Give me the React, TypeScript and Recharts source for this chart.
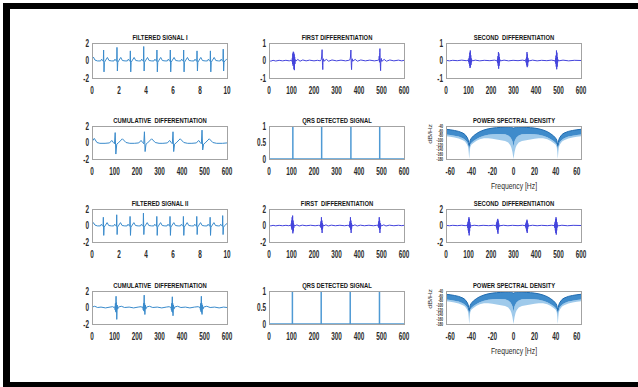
import { LineChart, Line, XAxis, YAxis, ComposedChart, Area } from 'recharts';

// values (time in s, others in samples)
const filteredSignal1 = [
  [0, 0.15], [0.1, 0.4], [0.22, 0.05], [0.4, -0.05],
  [0.64, -0.05], [0.71, 0.15], [0.78, 0], [0.84, -0.1], [0.86, 1.2], [0.89, -1.3], [0.92, -0.2], [0.98, -0.05], [1.14, 0.35], [1.26, 0], [1.46, -0.05],
  [1.63, -0.05], [1.7, 0.15], [1.77, 0], [1.83, -0.1], [1.85, 1.5], [1.88, -1.2], [1.91, -0.2], [1.97, -0.05], [2.13, 0.35], [2.25, 0], [2.45, -0.05],
  [2.62, -0.05], [2.69, 0.15], [2.76, 0], [2.82, -0.1], [2.84, 1.1], [2.87, -1.3], [2.9, -0.2], [2.96, -0.05], [3.12, 0.35], [3.24, 0], [3.44, -0.05],
  [3.61, -0.05], [3.68, 0.15], [3.75, 0], [3.81, -0.1], [3.83, 1.6], [3.86, -1.2], [3.89, -0.2], [3.95, -0.05], [4.11, 0.35], [4.23, 0], [4.43, -0.05],
  [4.59, -0.05], [4.66, 0.15], [4.73, 0], [4.79, -0.1], [4.81, 1.2], [4.84, -1.3], [4.87, -0.2], [4.93, -0.05], [5.09, 0.35], [5.21, 0], [5.41, -0.05],
  [5.58, -0.05], [5.65, 0.15], [5.72, 0], [5.78, -0.1], [5.8, 1.2], [5.83, -1.3], [5.86, -0.2], [5.92, -0.05], [6.08, 0.35], [6.2, 0], [6.4, -0.05],
  [6.57, -0.05], [6.64, 0.15], [6.71, 0], [6.77, -0.1], [6.79, 1.2], [6.82, -1.3], [6.85, -0.2], [6.91, -0.05], [7.07, 0.35], [7.19, 0], [7.39, -0.05],
  [7.56, -0.05], [7.63, 0.15], [7.7, 0], [7.76, -0.1], [7.78, 1.1], [7.81, -1.2], [7.84, -0.2], [7.9, -0.05], [8.06, 0.35], [8.18, 0], [8.38, -0.05],
  [8.55, -0.05], [8.62, 0.15], [8.69, 0], [8.75, -0.1], [8.77, 1.1], [8.8, -1.3], [8.83, -0.2], [8.89, -0.05], [9.05, 0.35], [9.17, 0], [9.37, -0.05],
  [9.5, -0.05], [9.57, 0.15], [9.64, 0], [9.7, -0.1], [9.72, 1.3], [9.75, -1.2], [9.78, -0.2], [9.84, -0.05], [10, 0.2],
];

const filteredSignal2 = [
  [0, 0.1], [0.1, 0.35], [0.22, 0.05], [0.4, -0.05],
  [0.62, -0.05], [0.69, 0.15], [0.76, 0], [0.82, -0.1], [0.84, 1.0], [0.87, -1.2], [0.9, -0.2], [0.96, -0.05], [1.12, 0.35], [1.24, 0], [1.44, -0.05],
  [1.61, -0.05], [1.68, 0.15], [1.75, 0], [1.81, -0.1], [1.83, 1.3], [1.86, -1.1], [1.89, -0.2], [1.95, -0.05], [2.11, 0.35], [2.23, 0], [2.43, -0.05],
  [2.6, -0.05], [2.67, 0.15], [2.74, 0], [2.8, -0.1], [2.82, 1.1], [2.85, -1.2], [2.88, -0.2], [2.94, -0.05], [3.1, 0.35], [3.22, 0], [3.42, -0.05],
  [3.59, -0.05], [3.66, 0.15], [3.73, 0], [3.79, -0.1], [3.81, 1.5], [3.84, -1.1], [3.87, -0.2], [3.93, -0.05], [4.09, 0.35], [4.21, 0], [4.41, -0.05],
  [4.58, -0.05], [4.65, 0.15], [4.72, 0], [4.78, -0.1], [4.8, 1.1], [4.83, -1.2], [4.86, -0.2], [4.92, -0.05], [5.08, 0.35], [5.2, 0], [5.4, -0.05],
  [5.56, -0.05], [5.63, 0.15], [5.7, 0], [5.76, -0.1], [5.78, 1.1], [5.81, -1.2], [5.84, -0.2], [5.9, -0.05], [6.06, 0.35], [6.18, 0], [6.38, -0.05],
  [6.55, -0.05], [6.62, 0.15], [6.69, 0], [6.75, -0.1], [6.77, 1.1], [6.8, -1.2], [6.83, -0.2], [6.89, -0.05], [7.05, 0.35], [7.17, 0], [7.37, -0.05],
  [7.54, -0.05], [7.61, 0.15], [7.68, 0], [7.74, -0.1], [7.76, 1.1], [7.79, -1.1], [7.82, -0.2], [7.88, -0.05], [8.04, 0.35], [8.16, 0], [8.36, -0.05],
  [8.53, -0.05], [8.6, 0.15], [8.67, 0], [8.73, -0.1], [8.75, 1.0], [8.78, -1.2], [8.81, -0.2], [8.87, -0.05], [9.03, 0.35], [9.15, 0], [9.35, -0.05],
  [9.46, -0.05], [9.53, 0.15], [9.6, 0], [9.66, -0.1], [9.68, 1.2], [9.71, -1.1], [9.74, -0.2], [9.8, -0.05], [10, 0.25],
];

const firstDiff1 = [
  [0, 0.02], [8, -0.04], [18, 0.01], [30, -0.03], [45, 0.01], [60, -0.02], [75, 0.01], [90, -0.02], [98, 0.02], [102, -0.05],
  [104, 0.15], [105, -0.2], [106, 0.4], [107, -0.3], [108, 0.5], [109, -0.25], [110, 0.45], [111, -0.5], [112, 0.35], [113, -0.55], [114, 0.2], [115, -0.2], [117, 0.05], [120, -0.03],
  [128, 0.06], [138, -0.04], [150, 0.03], [165, -0.02], [180, 0.02], [200, -0.02], [215, 0.01], [228, -0.02],
  [232, 0.05], [234, 0.2], [236, 0.62], [237, 0.1], [238, -0.3], [239, -0.52], [240, -0.1], [242, 0.1], [244, -0.04],
  [255, 0.06], [265, -0.04], [280, 0.03], [300, -0.02], [320, 0.02], [340, -0.02], [355, 0.01],
  [360, 0.05], [362, 0.2], [364, 0.6], [365, 0.1], [366, -0.3], [367, -0.52], [368, -0.1], [370, 0.1], [372, -0.04],
  [383, 0.06], [393, -0.04], [408, 0.03], [428, -0.02], [448, 0.02], [468, -0.02], [484, 0.01],
  [489, 0.05], [490, 0.25], [491, -0.1], [492, 0.45], [493, 0.68], [494, 0.1], [495, -0.35], [496, -0.58], [497, -0.1], [499, 0.12], [501, -0.05],
  [512, 0.06], [522, -0.04], [537, 0.03], [555, -0.02], [575, 0.02], [590, -0.02], [600, 0.01],
];

const firstDiff2 = [
  [0, 0.03], [8, -0.05], [18, 0.02], [30, -0.04], [45, 0.02], [60, -0.03], [75, 0.02], [88, -0.03], [95, 0.03], [98, -0.08],
  [99, 0.25], [100, -0.3], [101, 0.6], [102, -0.5], [103, 1.0], [104, -0.4], [105, 1.2], [106, -0.95], [107, 0.6], [108, -0.7], [109, 0.3], [110, -0.3], [112, 0.08], [115, -0.05],
  [124, 0.08], [134, -0.06], [148, 0.04], [165, -0.03], [185, 0.03], [205, -0.03], [220, 0.02],
  [227, -0.05], [229, 0.2], [230, -0.2], [231, 0.5], [232, -0.3], [233, 1.0], [234, -0.5], [235, 0.6], [236, -0.9], [237, 0.3], [238, -0.4], [240, 0.1], [243, -0.05],
  [253, 0.08], [263, -0.06], [277, 0.04], [295, -0.03], [315, 0.03], [335, -0.03], [350, 0.02],
  [356, -0.05], [358, 0.2], [359, -0.2], [360, 0.5], [361, -0.3], [362, 1.0], [363, -0.5], [364, 0.6], [365, -0.9], [366, 0.3], [367, -0.4], [369, 0.1], [372, -0.05],
  [382, 0.08], [392, -0.06], [406, 0.04], [424, -0.03], [444, 0.03], [464, -0.03], [478, 0.02],
  [484, -0.05], [486, 0.2], [487, -0.2], [488, 0.5], [489, -0.3], [490, 1.0], [491, -0.5], [492, 0.6], [493, -0.9], [494, 0.3], [495, -0.4], [497, 0.1], [500, -0.05],
  [510, 0.08], [520, -0.06], [535, 0.04], [555, -0.03], [575, 0.03], [590, -0.02], [600, 0.02],
];

const secondDiff1 = [
  [0, 0.01], [15, -0.02], [30, 0.01], [50, -0.01], [70, 0.02], [90, -0.01], [99, 0.02],
  [101, -0.08], [102, 0.12], [103, -0.18], [104, 0.25], [105, -0.3], [106, 0.45], [107, -0.43], [108, 0.57], [109, -0.35], [110, 0.3], [111, -0.25], [112, 0.12], [113, -0.1], [115, 0.04], [118, -0.02],
  [130, 0.02], [150, -0.02], [170, 0.01], [195, -0.01], [215, 0.02], [226, -0.01],
  [228, -0.06], [229, 0.1], [230, -0.15], [231, 0.25], [232, -0.3], [233, 0.48], [234, -0.47], [235, 0.4], [236, -0.3], [237, 0.2], [238, -0.12], [240, 0.05], [243, -0.02],
  [258, 0.02], [278, -0.02], [298, 0.01], [320, -0.01], [340, 0.02], [353, -0.01],
  [355, -0.06], [356, 0.1], [357, -0.15], [358, 0.2], [359, -0.28], [360, 0.48], [361, -0.38], [362, 0.35], [363, -0.3], [364, 0.15], [365, -0.1], [367, 0.04], [370, -0.02],
  [385, 0.02], [405, -0.02], [425, 0.01], [448, -0.01], [468, 0.02], [484, -0.01],
  [486, -0.08], [487, 0.12], [488, -0.18], [489, 0.28], [490, -0.35], [491, 0.57], [492, -0.5], [493, 0.45], [494, -0.35], [495, 0.2], [496, -0.12], [498, 0.05], [501, -0.02],
  [520, 0.02], [545, -0.02], [570, 0.01], [600, 0],
];

const secondDiff2 = [
  [0, 0.02], [15, -0.03], [30, 0.02], [50, -0.02], [70, 0.03], [85, -0.02], [94, 0.03],
  [95, -0.1], [96, 0.2], [97, -0.3], [98, 0.45], [99, -0.6], [100, 0.75], [101, -0.9], [102, 1.0], [103, -1.2], [104, 0.8], [105, -0.7], [106, 0.4], [107, -0.3], [109, 0.1], [112, -0.04],
  [125, 0.03], [145, -0.03], [165, 0.02], [190, -0.02], [210, 0.03], [222, -0.02],
  [223, -0.1], [224, 0.2], [225, -0.3], [226, 0.4], [227, -0.5], [228, 0.6], [229, -0.8], [230, 0.8], [231, -1.0], [232, 0.6], [233, -0.5], [234, 0.3], [235, -0.2], [237, 0.08], [240, -0.03],
  [255, 0.03], [275, -0.03], [295, 0.02], [320, -0.02], [340, 0.03], [352, -0.02],
  [353, -0.1], [354, 0.15], [355, -0.25], [356, 0.35], [357, -0.45], [358, 0.55], [359, -0.7], [360, 0.7], [361, -0.9], [362, 0.5], [363, -0.4], [364, 0.25], [365, -0.15], [367, 0.06], [370, -0.03],
  [385, 0.03], [405, -0.03], [425, 0.02], [450, -0.02], [470, 0.03], [481, -0.02],
  [482, -0.1], [483, 0.2], [484, -0.3], [485, 0.45], [486, -0.6], [487, 0.75], [488, -0.9], [489, 1.0], [490, -1.1], [491, 0.8], [492, -0.6], [493, 0.4], [494, -0.25], [496, 0.1], [499, -0.04],
  [515, 0.03], [540, -0.03], [565, 0.02], [600, 0],
];

const cumulativeDiff1 = [
  [0, 0.1], [10, 0.5], [22, 0.0], [35, -0.1], [58, -0.1], [78, -0.05], [88, 0.25], [95, 0], [100, -0.15], [103, 1.2], [106, -1.4], [110, -0.2], [117, -0.05], [135, 0.45], [151, 0], [168, -0.1],
  [188, -0.1], [208, -0.05], [218, 0.25], [225, 0], [230, -0.15], [233, 1.3], [236, -1.1], [240, -0.2], [247, -0.05], [265, 0.45], [281, 0], [298, -0.1],
  [315, -0.1], [335, -0.05], [345, 0.25], [352, 0], [357, -0.15], [360, 1.3], [363, -1.1], [367, -0.2], [374, -0.05], [392, 0.45], [408, 0], [425, -0.1],
  [444, -0.1], [464, -0.05], [474, 0.25], [481, 0], [486, -0.15], [489, 1.5], [492, -0.9], [496, -0.2], [503, -0.05], [521, 0.45], [537, 0], [554, -0.1], [580, -0.1], [600, -0.05],
];

const cumulativeDiff2 = [
  [0, 0.05], [12, 0.15], [25, 0], [40, 0.05], [60, -0.05], [80, 0.05], [92, 0.1], [98, 0],
  [101, 0.1], [103, -0.3], [104, 0.5], [105, -0.5], [107, 1.36], [108, -0.6], [109, 0.6], [110, -1.44], [112, 0.3], [114, -0.2], [117, 0.05],
  [130, 0.15], [145, 0.0], [165, 0.05], [185, -0.05], [205, 0.05], [218, 0.1], [224, 0],
  [226, 0.1], [228, -0.3], [229, 0.5], [230, -0.4], [232, 1.5], [233, -0.5], [234, 0.5], [235, -0.85], [237, 0.3], [239, -0.2], [242, 0.05],
  [255, 0.15], [270, 0.0], [290, 0.05], [310, -0.05], [330, 0.05], [343, 0.1], [349, 0],
  [351, 0.1], [353, -0.3], [354, 0.5], [355, -0.5], [357, 1.3], [358, -0.6], [359, 0.5], [360, -1.0], [362, 0.3], [364, -0.2], [367, 0.05],
  [380, 0.15], [395, 0.0], [415, 0.05], [435, -0.05], [455, 0.05], [472, 0.1], [478, 0],
  [480, 0.1], [482, -0.3], [483, 0.5], [484, -0.5], [486, 1.36], [487, -0.6], [488, 0.5], [489, -0.84], [491, 0.3], [493, -0.2], [496, 0.05],
  [510, 0.15], [525, 0], [545, 0.05], [565, -0.05], [585, 0.05], [600, 0],
];

const qrsDetected1 = [
  [0, 0], [106, 0], [106, 1], [106, 0], [234, 0], [234, 1], [234, 0],
  [364, 0], [364, 1], [364, 0], [492, 0], [492, 1], [492, 0], [600, 0],
];

const qrsDetected2 = [
  [0, 0], [104, 0], [104, 1], [104, 0], [232, 0], [232, 1], [232, 0],
  [361, 0], [361, 1], [361, 0], [491, 0], [491, 1], [491, 0], [600, 0],
];

// power spectral density, dB/Hz
const psdFreq = [-64, -60, -56, -52, -48, -46, -44, -43, -42.5, -42, -41.5, -41, -40, -38, -35, -32, -28, -24, -20, -16, -12, -8, -5, -3, -2, -1, -0.5, 0,
  0.5, 1, 2, 3, 5, 8, 12, 16, 20, 24, 28, 32, 35, 38, 40, 41, 41.5, 42, 42.5, 43, 44, 46, 48, 52, 56, 60, 64];
const psdUpper = [-54, -56, -59, -63, -70, -76, -88, -98, -110, -122, -110, -100, -92, -82, -72, -64, -57, -52, -49, -47, -46, -45, -45, -45, -46, -47, -48, -49,
  -48, -47, -46, -45, -45, -45, -46, -47, -49, -52, -57, -64, -72, -82, -92, -100, -110, -122, -110, -98, -88, -76, -70, -63, -59, -56, -54];
const psdDarkFloor = [-76, -78, -81, -85, -92, -98, -108, -118, -128, -138, -128, -118, -112, -104, -95, -88, -81, -77, -75, -74, -74, -75, -80, -88, -95, -105, -115, -128,
  -115, -105, -95, -88, -80, -75, -74, -74, -75, -77, -81, -88, -95, -104, -112, -118, -128, -138, -128, -118, -108, -98, -92, -85, -81, -78, -76];
const psdLightFloor = [-84, -86, -89, -93, -100, -106, -118, -130, -150, -180, -150, -130, -120, -112, -103, -96, -92, -92, -94, -97, -100, -104, -110, -122, -132, -150, -165, -180,
  -165, -150, -132, -122, -110, -104, -100, -97, -94, -92, -92, -96, -103, -112, -120, -130, -150, -180, -150, -130, -118, -106, -100, -93, -89, -86, -84];

const timeTicks = [0, 2, 4, 6, 8, 10];
const sampleTicks = [0, 100, 200, 300, 400, 500, 600];
const freqTicks = [-60, -40, -20, 0, 20, 40, 60];
const ampTicks1 = [-1, 0, 1];
const ampTicks2 = [-2, 0, 2];
const qrsTicks = [0, 0.5, 1];
const psdTicks = [-180, -160, -140, -120, -100, -80, -60, -40];

const FONT = '"Liberation Sans", Arial, Helvetica, sans-serif';
const W = 135;
const PAD_L = 34;
const PAD_R = 8;
const PAD_T = 8;
const PAD_B = 22;
const COLS = [92, 269, 446];

const LIGHT_BLUE = '#3a8bcc';
const VIOLET = '#4444dc';

function XTick(props: any) {
  const { x, y, payload } = props;
  return (
    <text transform={`translate(${x},${y + 12}) scale(0.64,1)`} textAnchor="middle" dominantBaseline="central"
      fontFamily={FONT} fontWeight="bold" fontSize={10} fill="#2b2b2b">
      {payload.value}
    </text>
  );
}

function YTick(props: any) {
  const { x, y, payload, size = 10 } = props;
  return (
    <text transform={`translate(${x - 3},${y}) scale(0.64,1)`} textAnchor="end" dominantBaseline="central"
      fontFamily={FONT} fontWeight="bold" fontSize={size} fill="#2b2b2b">
      {payload.value}
    </text>
  );
}

function Title({ text, left, top }: { text: string; left: number; top: number }) {
  return (
    <div style={{
      position: 'absolute', left: left + W / 2, top: top - 5, transform: 'translate(-50%, -50%) scaleX(0.78)',
      fontFamily: FONT, fontWeight: 'bold', fontSize: 7.5, lineHeight: '8px', whiteSpace: 'pre', color: '#151515',
    }}>{text}</div>
  );
}

function Box({ left, top, height }: { left: number; top: number; height: number }) {
  return (
    <div style={{
      position: 'absolute', left, top, width: W + 1, height: height + 1, boxSizing: 'border-box',
      border: '1px solid #a3a3a3', pointerEvents: 'none',
    }} />
  );
}

function Panel({ title, left, top, height, series, color, xDomain, xTicks, yDomain, yTicks, strokeWidth = 1 }: any) {
  const rows = series.map(([x, y]: number[]) => ({ x, y }));
  return (
    <>
      <div style={{ position: 'absolute', left: left - PAD_L, top: top - PAD_T }}>
        <LineChart width={PAD_L + W + PAD_R} height={PAD_T + height + PAD_B} data={rows}
          margin={{ top: PAD_T, right: PAD_R, bottom: 0, left: 0 }}>
          <XAxis type="number" dataKey="x" domain={xDomain} ticks={xTicks} interval={0} allowDataOverflow
            axisLine={false} tickLine={false} tickSize={0} tickMargin={0} height={PAD_B} tick={(p: any) => <XTick {...p} />} />
          <YAxis type="number" domain={yDomain} ticks={yTicks} interval={0} allowDataOverflow
            axisLine={false} tickLine={false} tickSize={0} tickMargin={0} width={PAD_L} tick={(p: any) => <YTick {...p} />} />
          <Line type="linear" dataKey="y" stroke={color} strokeWidth={strokeWidth} dot={false} isAnimationActive={false} />
        </LineChart>
      </div>
      <Box left={left} top={top} height={height} />
      <Title text={title} left={left} top={top} />
    </>
  );
}

function PsdPanel({ left, top, height }: { left: number; top: number; height: number }) {
  const rows = psdFreq.map((f, i) => ({
    f,
    upper: psdUpper[i],
    dark: [psdDarkFloor[i], psdUpper[i]],
    light: [psdLightFloor[i], psdDarkFloor[i]],
  }));
  return (
    <>
      <div style={{ position: 'absolute', left: left - PAD_L, top: top - PAD_T }}>
        <ComposedChart width={PAD_L + W + PAD_R} height={PAD_T + height + PAD_B} data={rows}
          margin={{ top: PAD_T, right: PAD_R, bottom: 0, left: 0 }}>
          <XAxis type="number" dataKey="f" domain={[-64, 64]} ticks={freqTicks} interval={0} allowDataOverflow
            axisLine={false} tickLine={false} tickSize={0} tickMargin={0} height={PAD_B} tick={(p: any) => <XTick {...p} />} />
          <YAxis type="number" domain={[-180, -40]} ticks={psdTicks} interval={0} allowDataOverflow
            axisLine={false} tickLine={false} tickSize={0} tickMargin={0} width={PAD_L} tick={(p: any) => <YTick {...p} size={5} />} />
          <Area type="linear" dataKey="light" stroke="none" fill="#9fcaeb" fillOpacity={1} isAnimationActive={false} />
          <Area type="linear" dataKey="dark" stroke="none" fill="#3f8bcb" fillOpacity={1} isAnimationActive={false} />
          <Line type="linear" dataKey="upper" stroke="#1f6bb0" strokeWidth={1} dot={false} isAnimationActive={false} />
        </ComposedChart>
      </div>
      <Box left={left} top={top} height={height} />
      <Title text="POWER SPECTRAL DENSITY" left={left} top={top} />
      <div style={{
        position: 'absolute', left: 430, top: top + 8, transform: 'translate(-50%, -50%) rotate(-90deg) scale(0.9, 0.75)',
        fontFamily: FONT, fontSize: 8, lineHeight: '9px', whiteSpace: 'nowrap', color: '#2b2b2b',
      }}>dB/Hz</div>
      <div style={{
        position: 'absolute', left: left + W / 2, top: top + height + 27, transform: 'translate(-50%, -50%) scaleX(0.8)',
        fontFamily: FONT, fontSize: 8.5, lineHeight: '9px', whiteSpace: 'nowrap', color: '#2b2b2b',
      }}>Frequency [Hz]</div>
    </>
  );
}

export default function App() {
  const [c1, c2, c3] = COLS;
  return (
    <div style={{ position: 'absolute', left: 0, top: 0, width: 638, height: 387, background: '#fff', overflow: 'hidden' }}>
      <div style={{ position: 'absolute', left: 3, top: 3, width: 635, height: 6, background: '#000' }} />
      <div style={{ position: 'absolute', left: 3, top: 3, width: 7, height: 384, background: '#000' }} />
      <div style={{ position: 'absolute', left: 3, top: 382, width: 635, height: 5, background: '#000' }} />

      <Panel title="FILTERED SIGNAL I" left={c1} top={43} height={35} series={filteredSignal1} color={LIGHT_BLUE}
        xDomain={[0, 10]} xTicks={timeTicks} yDomain={[-2, 2]} yTicks={ampTicks2} />
      <Panel title="FIRST DIFFERENTIATION" left={c2} top={43} height={35} series={firstDiff1} color={VIOLET}
        xDomain={[0, 600]} xTicks={sampleTicks} yDomain={[-1, 1]} yTicks={ampTicks1} />
      <Panel title="SECOND  DIFFERENTIATION" left={c3} top={43} height={35} series={secondDiff1} color={VIOLET}
        xDomain={[0, 600]} xTicks={sampleTicks} yDomain={[-1, 1]} yTicks={ampTicks1} />

      <Panel title="CUMULATIVE  DIFFERENTIATION" left={c1} top={126} height={33} series={cumulativeDiff1} color={LIGHT_BLUE}
        xDomain={[0, 600]} xTicks={sampleTicks} yDomain={[-2, 2]} yTicks={ampTicks2} />
      <Panel title="QRS DETECTED SIGNAL" left={c2} top={126} height={33} series={qrsDetected1} color="#4f9ad4" strokeWidth={1.5}
        xDomain={[0, 600]} xTicks={sampleTicks} yDomain={[0, 1]} yTicks={qrsTicks} />
      <PsdPanel left={c3} top={126} height={33} />

      <Panel title="FILTERED SIGNAL II" left={c1} top={209} height={33} series={filteredSignal2} color={LIGHT_BLUE}
        xDomain={[0, 10]} xTicks={timeTicks} yDomain={[-2, 2]} yTicks={ampTicks2} />
      <Panel title="FIRST  DIFFERENTIATION" left={c2} top={209} height={33} series={firstDiff2} color={VIOLET}
        xDomain={[0, 600]} xTicks={sampleTicks} yDomain={[-2, 2]} yTicks={ampTicks2} />
      <Panel title="SECOND  DIFFERENTIATION" left={c3} top={209} height={33} series={secondDiff2} color={VIOLET}
        xDomain={[0, 600]} xTicks={sampleTicks} yDomain={[-2, 2]} yTicks={ampTicks2} />

      <Panel title="CUMULATIVE  DIFFERENTIATION" left={c1} top={291} height={33} series={cumulativeDiff2} color={LIGHT_BLUE}
        xDomain={[0, 600]} xTicks={sampleTicks} yDomain={[-2, 2]} yTicks={ampTicks2} />
      <Panel title="QRS DETECTED SIGNAL" left={c2} top={291} height={33} series={qrsDetected2} color="#4f9ad4" strokeWidth={1.5}
        xDomain={[0, 600]} xTicks={sampleTicks} yDomain={[0, 1]} yTicks={qrsTicks} />
      <PsdPanel left={c3} top={291} height={33} />
    </div>
  );
}
